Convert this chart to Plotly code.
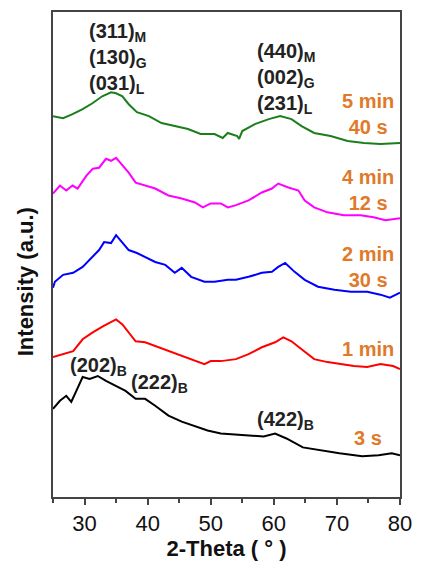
import plotly.graph_objects as go

# 2-Theta (deg) and intensity (a.u., offset-stacked)
x_5min40s = [25.0, 26.6, 28.1, 29.7, 31.25, 32.8, 34.2, 35.0, 36.0, 37.0, 38.3, 40.2, 42.2, 44.3, 46.4, 48.4, 50.6, 51.9, 52.7, 54.2, 54.5, 55.0, 57.0, 59.2, 61.0, 62.8, 64.4, 66.4, 69.0, 71.7, 74.3, 76.9, 78.9, 80.0]
y_5min40s = [384, 382, 386, 391, 397, 404, 408, 407, 404, 396, 388, 384, 377, 374, 371, 366, 366, 362, 367, 364, 361, 369, 376, 381, 384, 381, 374, 367, 364, 359, 357, 356, 357, 357]

x_4min12s = [25.0, 26.1, 27.1, 28.1, 28.9, 30.3, 31.3, 32.3, 33.4, 34.2, 35.0, 35.7, 37.0, 38.1, 39.6, 41.2, 43.3, 45.4, 47.5, 48.75, 50.0, 51.6, 52.7, 53.9, 56.0, 58.1, 59.7, 60.7, 62.3, 63.9, 64.9, 66.4, 68.5, 71.1, 73.75, 75.8, 77.7, 80.0]
y_4min12s = [306, 314, 309, 314, 311, 324, 331, 332, 341, 339, 342, 337, 327, 317, 314, 311, 304, 301, 297, 292, 296, 296, 292, 294, 299, 307, 311, 316, 312, 309, 299, 292, 287, 284, 284, 282, 279, 281]

x_2min30s = [25.0, 25.3, 26.6, 28.2, 29.7, 31.3, 32.3, 33.1, 34.2, 35.0, 35.7, 37.0, 38.3, 39.6, 41.2, 42.8, 44.3, 45.4, 46.9, 49.0, 50.6, 52.7, 54.0, 56.0, 58.1, 59.7, 60.7, 61.8, 63.3, 64.9, 67.0, 69.6, 72.2, 74.8, 76.9, 78.4, 80.0]
y_2min30s = [211, 217, 224, 226, 232, 242, 249, 257, 256, 264, 259, 249, 246, 242, 237, 234, 226, 231, 222, 217, 217, 219, 219, 222, 226, 227, 232, 236, 227, 219, 212, 209, 207, 207, 204, 201, 206]

x_1min = [25.0, 26.6, 28.2, 29.7, 31.3, 32.9, 34.2, 35.0, 36.0, 37.3, 38.1, 39.6, 41.7, 43.8, 45.9, 47.5, 49.0, 50.0, 51.6, 54.0, 56.0, 58.1, 60.2, 61.5, 62.8, 64.4, 66.4, 68.5, 70.6, 72.7, 74.8, 76.9, 78.9, 80.0]
y_1min = [141, 144, 147, 159, 166, 172, 176, 179, 174, 164, 157, 156, 151, 146, 141, 137, 134, 137, 137, 139, 144, 151, 156, 161, 157, 149, 139, 136, 134, 132, 131, 134, 132, 129]

x_3s = [25.0, 26.1, 27.1, 27.9, 28.7, 29.7, 30.8, 32.1, 33.4, 35.0, 36.5, 38.1, 39.6, 41.2, 43.3, 45.4, 47.5, 49.5, 51.6, 55.8, 58.4, 60.2, 62.0, 64.6, 67.2, 70.4, 74.0, 76.6, 78.7, 80.0]
y_3s = [89, 97, 102, 96, 107, 121, 119, 122, 117, 112, 107, 99, 99, 92, 82, 76, 71, 67, 64, 62, 61, 64, 59, 50, 47, 44, 41, 42, 44, 42]

series = [
    (x_5min40s, y_5min40s, "#1a7f1a", "5 min<br>40 s", 386.5),
    (x_4min12s, y_4min12s, "#ff00ff", "4 min<br>12 s", 309.5),
    (x_2min30s, y_2min30s, "#0000ff", "2 min<br>30 s", 231.5),
    (x_1min, y_1min, "#ff0000", "1 min", 149),
    (x_3s, y_3s, "#000000", "3 s", 59),
]

FONT = "Liberation Sans, Arial, sans-serif"
ORANGE = "#E07A2A"

fig = go.Figure()
for xs, ys, col, lab, ly in series:
    fig.add_trace(go.Scatter(x=xs, y=ys, mode="lines", line=dict(color=col, width=2), showlegend=False))
    fig.add_annotation(x=75, y=ly, text="<b>" + lab + "</b>", showarrow=False, xref="x", yref="y",
                       font=dict(family=FONT, size=20, color=ORANGE), align="center")

black_labels = [
    ("(311)<sub>M</sub><br>(130)<sub>G</sub><br>(031)<sub>L</sub>", 30.4, 442),
    ("(440)<sub>M</sub><br>(002)<sub>G</sub><br>(231)<sub>L</sub>", 57.0, 422),
    ("(202)<sub>B</sub>", 27.3, 132),
    ("(222)<sub>B</sub>", 37.0, 114),
    ("(422)<sub>B</sub>", 57.0, 77),
]
for txt, ax, ay in black_labels:
    fig.add_annotation(x=ax, y=ay, text="<b>" + txt + "</b>", showarrow=False, xanchor="left", yanchor="middle",
                       align="left", font=dict(family=FONT, size=20, color="#222222"))

# y-axis title, placed as in the reference (slightly below the plot centre)
fig.add_annotation(xref="paper", yref="paper", x=-0.079, y=0.444, xanchor="center", yanchor="middle",
                   text="<b>Intensity (a.u.)</b>", textangle=-90, showarrow=False,
                   font=dict(family=FONT, size=22, color="#111111"))

fig.update_layout(
    width=422, height=564,
    margin=dict(l=53, r=17, t=10, b=65),
    paper_bgcolor="white", plot_bgcolor="white",
    font=dict(family=FONT, color="#111111"),
)
fig.update_xaxes(
    range=[25, 80], tickmode="array", tickvals=[30, 40, 50, 60, 70, 80],
    ticks="outside", ticklen=6, tickwidth=1.5, tickcolor="#444444",
    minor=dict(tickvals=[25, 35, 45, 55, 65, 75], ticks="outside", ticklen=4, tickcolor="#444444", tickwidth=1.5),
    showline=True, linecolor="#444444", linewidth=1.5, mirror=True, showgrid=False, zeroline=False,
    tickfont=dict(family=FONT, size=22, color="#111111"),
    title=dict(text="<b>2-Theta ( ° )</b>", font=dict(family=FONT, size=22, color="#111111"), standoff=2),
)
fig.update_yaxes(
    range=[0, 489], showticklabels=False, ticks="", showline=True, linecolor="#444444", linewidth=1.5,
    mirror=True, showgrid=False, zeroline=False,
)

fig.write_html("out.html")
